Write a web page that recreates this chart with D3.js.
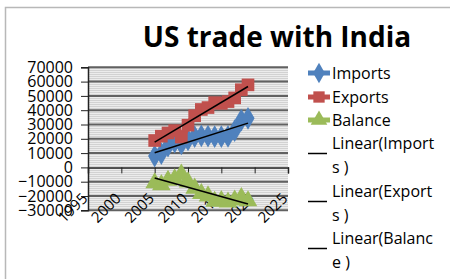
<!DOCTYPE html>
<html>
<head>
<meta charset="utf-8">
<script src="https://cdn.jsdelivr.net/npm/d3@7"></script>
<style>
  body { margin: 0; background: #fff; }
  text { font-family: "Open Sans", sans-serif; fill: #000; }
</style>
</head>
<body>
<script>
const width = 450;
const height = 279;

// values
const years = [2005, 2006, 2007, 2008, 2009, 2010, 2011, 2012, 2013, 2014, 2015, 2016, 2017, 2018, 2019];
const imports = [7919, 9674, 14969, 17682, 16441, 19250, 21542, 22106, 21842, 21499, 21453, 21689, 25689, 33125, 34288];
const exportsV = [18804, 21831, 24073, 25704, 21166, 29533, 36154, 40513, 41846, 45273, 44783, 46018, 48617, 54326, 57713];
const balance = [-10885, -12157, -9104, -8022, -4725, -10283, -14612, -18407, -20004, -23774, -23330, -24329, -22928, -21201, -23425];
const xTicks = [1995, 2000, 2005, 2010, 2015, 2020, 2025];
const yTicks = [-30000, -20000, -10000, 0, 10000, 20000, 30000, 40000, 50000, 60000, 70000];
const legendLabels = [["Imports"], ["Exports"], ["Balance"],
  ["Linear(Import", "s )"], ["Linear(Export", "s )"], ["Linear(Balanc", "e )"]];

const series = [
  { name: "Imports", values: imports, color: "#4F81BD", shape: d3.symbolDiamond, size: 150 },
  { name: "Exports", values: exportsV, color: "#C0504D", shape: d3.symbolSquare, size: 160 },
  { name: "Balance", values: balance, color: "#9BBB59", shape: d3.symbolTriangle, size: 150 }
];

const x = d3.scaleLinear().domain([1995, 2025]).range([88, 288]);
const y = d3.scaleLinear().domain([-30000, 70000]).range([210.3, 67.3]);

const svg = d3.select("body").append("svg")
  .attr("width", width).attr("height", height)
  .attr("xmlns", "http://www.w3.org/2000/svg");

// chart frame
svg.append("path").attr("d", "M5.5,279 V7.5 H450")
  .attr("fill", "none").attr("stroke", "#b8b8b8").attr("stroke-width", 1.5);

// striped plot background
const pat = svg.append("defs").append("pattern")
  .attr("id", "stripes").attr("patternUnits", "userSpaceOnUse")
  .attr("width", 4).attr("height", 2);
pat.append("rect").attr("width", 4).attr("height", 2).attr("fill", "#ececec");
pat.append("rect").attr("width", 4).attr("height", 1).attr("fill", "#d2d2d2");

svg.append("rect")
  .attr("x", x(1995)).attr("y", y(70000))
  .attr("width", x(2025) - x(1995)).attr("height", y(-30000) - y(70000))
  .attr("fill", "url(#stripes)");

// gridlines
svg.append("g").selectAll("line").data(yTicks.filter(d => d !== 0)).enter()
  .append("line")
  .attr("x1", x(1995)).attr("x2", x(2025))
  .attr("y1", d => y(d)).attr("y2", d => y(d))
  .attr("stroke", "#616161").attr("stroke-width", 2);

// y axis
const yAxis = svg.append("g")
  .attr("transform", `translate(${x(1995)},0)`)
  .call(d3.axisLeft(y).tickValues(yTicks).tickSize(7).tickPadding(8).tickFormat(d3.format("d")));
yAxis.select(".domain").attr("stroke", "#222").attr("stroke-width", 1.5);
yAxis.selectAll(".tick line").attr("stroke", "#222");
yAxis.selectAll(".tick text").attr("font-size", 16).attr("font-family", "Open Sans").attr("fill", "#000");

// x axis at zero
const xAxis = svg.append("g")
  .attr("transform", `translate(0,${y(0)})`)
  .call(d3.axisBottom(x).tickValues(xTicks).tickSize(6).tickFormat(d3.format("d")));
xAxis.select(".domain").attr("stroke", "#222").attr("stroke-width", 1.5);
xAxis.selectAll(".tick line").attr("stroke", "#222");
xAxis.selectAll(".tick text")
  .attr("font-size", 15).attr("font-family", "Open Sans").attr("fill", "#000")
  .attr("text-anchor", "end")
  .attr("y", 0).attr("dy", 0)
  .attr("transform", "translate(0,32) rotate(-45)");

// series lines and markers
const line = d3.line().x((d, i) => x(years[i])).y(d => y(d));
series.forEach(s => {
  svg.append("path").datum(s.values)
    .attr("d", line).attr("fill", "none")
    .attr("stroke", s.color).attr("stroke-width", 7).attr("stroke-linejoin", "round");
  svg.append("g").selectAll("path").data(s.values).enter()
    .append("path")
    .attr("d", d3.symbol().type(s.shape).size(s.size))
    .attr("transform", (d, i) => `translate(${x(years[i])},${y(d)})`)
    .attr("fill", s.color);
});

// linear trend lines
function trend(vals) {
  const mx = d3.mean(years), my = d3.mean(vals);
  const b = d3.sum(years, (t, i) => (t - mx) * (vals[i] - my)) / d3.sum(years, t => (t - mx) ** 2);
  return t => my + b * (t - mx);
}
series.forEach(s => {
  const f = trend(s.values);
  const ends = [years[0], years[years.length - 1]];
  svg.append("line")
    .attr("x1", x(ends[0])).attr("y1", y(f(ends[0])))
    .attr("x2", x(ends[1])).attr("y2", y(f(ends[1])))
    .attr("stroke", "#000").attr("stroke-width", 1.5);
});

// title
svg.append("text")
  .attr("x", 277).attr("y", 47)
  .attr("text-anchor", "middle")
  .attr("font-size", 28).attr("font-weight", "bold")
  .text("US trade with India");

// legend
const legendY = [73, 97, 120, 143, 191, 238];
const legend = svg.append("g");
legendLabels.forEach((lines, i) => {
  const g = legend.append("g").attr("transform", `translate(0,${legendY[i]})`);
  if (i < 3) {
    const s = series[i];
    g.append("line").attr("x1", 308).attr("x2", 330).attr("y1", 0).attr("y2", 0)
      .attr("stroke", s.color).attr("stroke-width", 5);
    g.append("path").attr("d", d3.symbol().type(s.shape).size(s.size * 0.8))
      .attr("transform", "translate(319,0)").attr("fill", s.color);
  } else {
    g.append("line").attr("x1", 308).attr("x2", 327).attr("y1", 10.5).attr("y2", 10.5)
      .attr("stroke", "#000").attr("stroke-width", 1.5);
  }
  lines.forEach((t, j) => {
    g.append("text").attr("x", 332).attr("y", j * 24.5)
      .attr("dy", "0.35em").attr("font-size", 16).text(t);
  });
});
</script>
</body>
</html>
